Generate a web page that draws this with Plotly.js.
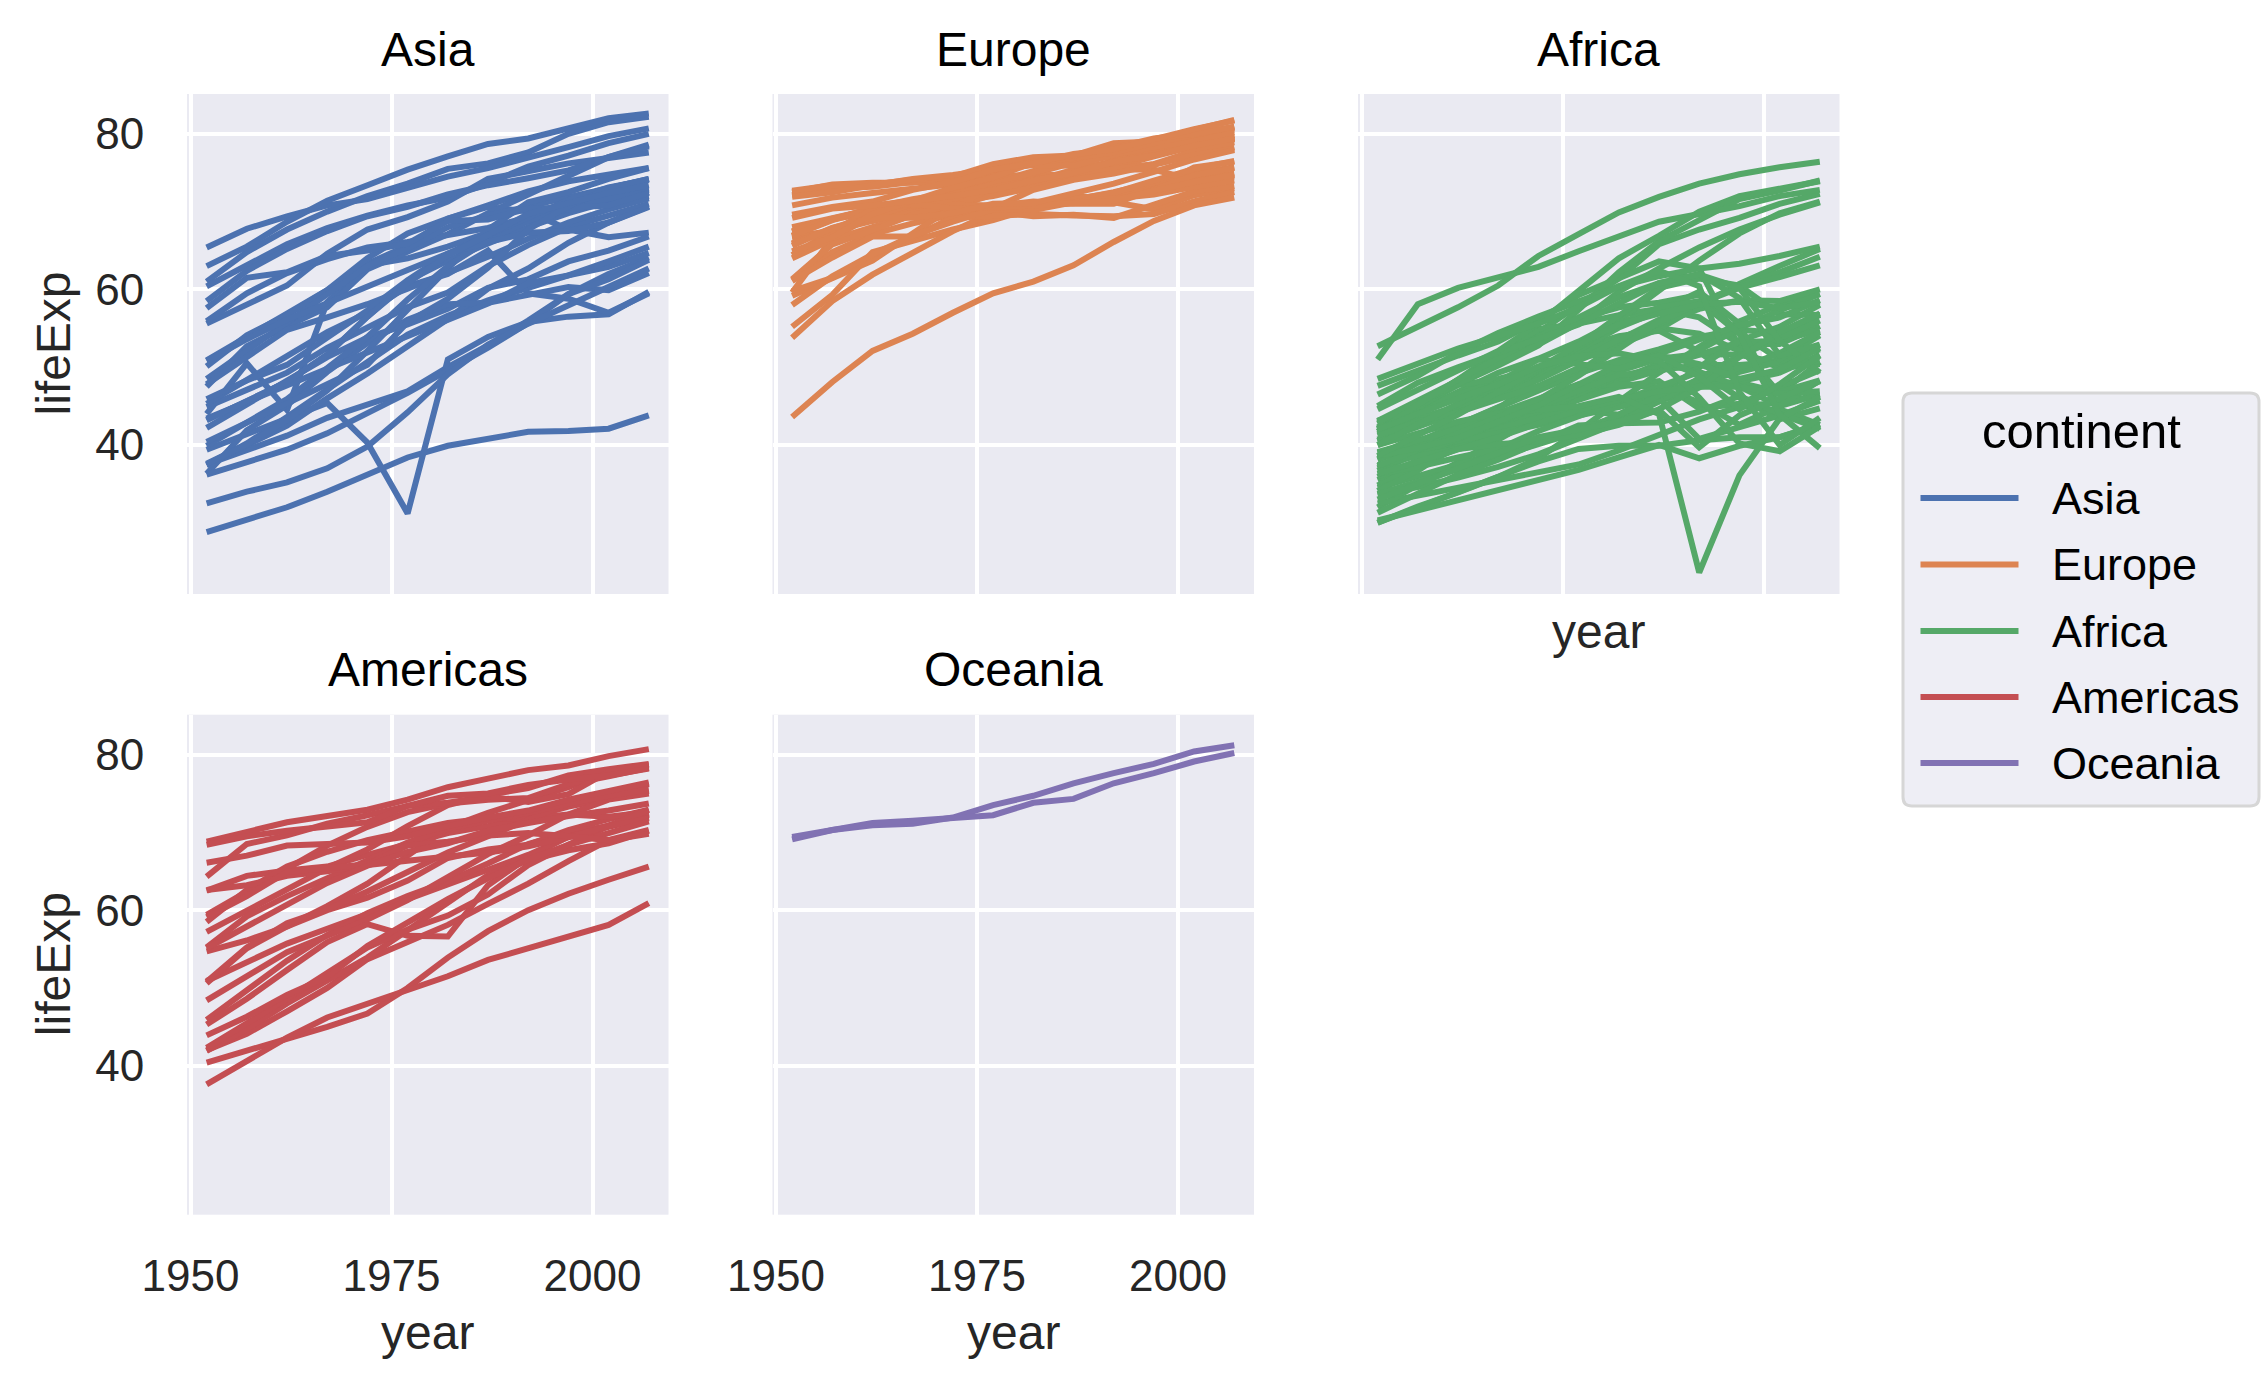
<!DOCTYPE html>
<html>
<head>
<meta charset="utf-8">
<script src="https://cdn.plot.ly/plotly-3.0.1.min.js"></script>
<style>
html, body { margin: 0; padding: 0; background: #ffffff; }
#chart { width: 2266px; height: 1392px; }
</style>
</head>
<body>
<div id="chart"></div>
<script>
// ---------------- DATA ----------------
const years = [1952, 1957, 1962, 1967, 1972, 1977, 1982, 1987, 1992, 1997, 2002, 2007];
const continents = ["Asia", "Europe", "Africa", "Americas", "Oceania"];
const xTickVals = [1950, 1975, 2000];
const yTickVals = [40, 60, 80];

const asiaCountries = ["Afghanistan","Bahrain","Bangladesh","Cambodia","China","Hong Kong, China","India","Indonesia","Iran","Iraq","Israel","Japan","Jordan","Korea, Dem. Rep.","Korea, Rep.","Kuwait","Lebanon","Malaysia","Mongolia","Myanmar","Nepal","Oman","Pakistan","Philippines","Saudi Arabia","Singapore","Sri Lanka","Syria","Taiwan","Thailand","Vietnam","West Bank and Gaza","Yemen, Rep."];
const asiaLifeExp = [
  [28.8,30.3,32.0,34.0,36.1,38.4,39.9,40.8,41.7,41.8,42.1,43.8],
  [50.9,53.8,56.9,59.9,63.3,65.6,69.1,70.8,72.6,73.9,74.8,75.6],
  [37.5,39.3,41.2,43.5,45.3,46.9,50.0,52.8,56.0,59.4,62.0,64.1],
  [39.4,41.4,43.4,45.4,40.3,31.2,51.0,53.9,55.8,56.5,56.8,59.7],
  [44.0,50.5,44.5,58.4,63.1,64.0,65.5,67.3,68.7,70.4,72.0,73.0],
  [61.0,64.8,67.7,70.0,72.0,73.6,75.5,76.2,77.6,80.0,81.5,82.2],
  [37.4,40.2,43.6,47.2,50.7,54.2,56.6,58.6,60.2,61.8,62.9,64.7],
  [37.5,39.9,42.5,46.0,49.2,52.7,56.2,60.1,62.7,66.0,68.6,70.7],
  [44.9,47.2,49.3,52.5,55.2,57.7,59.6,63.0,65.7,68.0,69.5,71.0],
  [45.3,48.4,51.5,54.5,57.0,60.4,62.0,65.0,59.5,58.8,57.0,59.5],
  [65.4,67.8,69.4,70.8,71.6,73.1,74.5,75.6,76.9,78.3,79.7,80.7],
  [63.0,65.5,68.7,71.4,73.4,75.4,77.1,78.7,79.4,80.7,82.0,82.6],
  [43.2,45.7,48.1,51.6,56.5,61.1,63.7,65.9,68.0,69.8,71.3,72.5],
  [50.1,54.1,56.7,59.9,64.0,67.2,69.1,70.6,70.0,67.7,66.7,67.3],
  [47.5,52.7,55.3,57.7,62.6,64.8,67.1,69.8,72.2,74.6,77.0,78.6],
  [55.6,58.0,60.5,64.6,67.7,69.3,71.3,74.2,75.2,76.2,76.9,77.6],
  [55.9,59.5,62.1,63.9,65.4,66.1,67.0,67.9,69.3,70.3,71.0,72.0],
  [48.5,52.1,55.7,59.4,63.0,65.3,68.0,69.5,70.7,71.9,73.0,74.2],
  [42.2,45.2,48.3,51.3,53.8,55.5,57.5,60.2,61.3,63.6,65.0,66.8],
  [36.3,41.9,45.1,49.4,53.1,56.1,58.1,58.3,59.3,60.3,59.9,62.1],
  [36.2,37.7,39.4,41.5,44.0,46.7,49.6,52.5,55.7,59.4,61.3,63.8],
  [37.6,40.1,43.2,47.0,52.1,57.4,62.7,67.7,71.2,72.5,74.2,75.6],
  [43.4,45.6,47.7,49.8,51.9,54.0,56.2,58.2,60.8,61.8,63.6,65.5],
  [47.8,51.3,54.8,56.4,58.1,60.1,62.1,64.2,66.5,68.6,70.3,71.7],
  [39.9,42.9,45.9,49.9,53.9,58.7,63.0,66.3,68.8,70.5,71.6,72.8],
  [60.4,63.2,65.8,67.9,69.5,70.8,71.8,73.6,75.8,77.2,78.8,80.0],
  [57.6,61.5,62.2,64.3,65.0,65.9,68.8,69.0,70.4,70.5,70.8,72.4],
  [45.9,48.3,50.3,53.7,57.3,61.2,64.6,67.0,69.2,71.5,73.1,74.1],
  [58.5,62.4,65.2,67.5,69.4,70.6,72.2,73.4,74.3,75.3,77.0,78.4],
  [50.8,53.6,56.1,58.3,60.4,62.5,64.6,66.1,67.3,67.5,68.6,70.6],
  [40.4,42.9,45.4,47.8,50.3,55.8,58.8,62.8,67.7,70.7,73.0,74.2],
  [43.2,45.7,48.1,51.6,56.5,60.8,64.4,67.0,69.7,71.1,72.4,73.4],
  [32.5,34.0,35.2,37.0,39.8,44.2,49.1,52.9,55.6,58.0,60.3,62.7]
];

const europeCountries = ["Albania","Austria","Belgium","Bosnia and Herzegovina","Bulgaria","Croatia","Czech Republic","Denmark","Finland","France","Germany","Greece","Hungary","Iceland","Ireland","Italy","Montenegro","Netherlands","Norway","Poland","Portugal","Romania","Serbia","Slovak Republic","Slovenia","Spain","Sweden","Switzerland","Turkey","United Kingdom"];
const europeLifeExp = [
  [55.2,59.3,64.8,66.2,67.7,68.9,70.4,72.0,71.6,73.0,75.7,76.4],
  [66.8,67.5,69.5,70.1,70.6,72.2,73.2,74.9,76.0,77.5,79.0,79.8],
  [68.0,69.2,70.3,70.9,71.4,72.8,73.9,75.4,76.5,77.5,78.3,79.4],
  [53.8,58.5,61.9,64.8,67.5,69.9,70.7,71.1,72.2,73.2,74.1,74.9],
  [59.6,66.6,69.5,70.4,70.9,70.8,71.1,71.3,71.2,70.3,72.1,73.0],
  [61.2,64.8,67.1,68.5,69.6,70.6,70.5,71.5,72.5,73.7,74.9,75.7],
  [66.9,69.0,69.9,70.4,70.3,70.7,71.0,71.6,72.4,74.0,75.5,76.5],
  [70.8,71.8,72.4,73.0,73.5,74.7,74.6,74.8,75.3,76.1,77.2,78.3],
  [66.6,67.5,68.8,69.8,70.9,72.5,74.6,74.8,75.7,77.1,78.4,79.3],
  [67.4,68.9,70.5,71.6,72.4,73.8,74.9,76.3,77.5,78.6,79.6,80.7],
  [67.5,69.1,70.3,70.8,71.0,72.5,73.8,74.8,76.1,77.3,78.7,79.4],
  [65.9,67.9,69.5,71.0,72.3,73.7,75.2,76.7,77.0,77.9,78.3,79.5],
  [64.0,66.4,68.0,69.5,69.8,70.0,69.4,69.6,69.2,71.0,72.6,73.3],
  [72.5,73.5,73.7,73.7,74.5,76.1,77.0,77.2,78.8,79.0,80.5,81.8],
  [66.9,68.9,70.3,71.1,71.3,72.0,73.1,74.4,75.5,76.1,77.8,78.9],
  [65.9,67.8,69.2,71.1,72.2,73.5,75.0,76.4,77.4,78.8,80.2,80.5],
  [59.2,61.4,63.7,67.2,70.6,73.1,74.1,74.9,75.4,75.4,74.0,74.5],
  [72.1,73.0,73.2,73.8,73.8,75.2,76.1,76.8,77.4,78.0,78.5,79.8],
  [72.7,73.4,73.5,74.1,74.3,75.4,76.0,75.9,77.3,78.3,79.1,80.2],
  [61.3,65.8,67.6,69.6,70.9,70.7,71.3,71.0,71.0,72.8,74.7,75.6],
  [59.8,61.5,64.4,66.6,69.3,70.4,72.8,74.1,74.9,76.0,77.3,78.1],
  [61.1,64.1,66.8,66.8,69.2,69.5,69.7,69.5,69.4,69.7,71.3,72.5],
  [58.0,61.7,64.5,66.9,68.7,70.3,70.2,71.2,71.7,72.2,73.2,74.0],
  [64.4,67.5,70.3,71.0,70.4,70.5,70.8,71.1,71.4,72.7,73.8,74.7],
  [65.6,67.9,69.2,69.2,69.8,71.0,71.1,72.3,73.6,75.1,76.7,77.9],
  [64.9,66.7,69.7,71.4,73.1,74.4,76.3,76.9,77.6,78.8,79.8,80.9],
  [71.9,72.5,73.4,74.2,74.7,75.4,76.4,77.2,78.2,79.4,80.0,80.9],
  [69.6,70.6,71.3,72.8,73.8,75.4,76.2,77.4,78.0,79.4,80.6,81.7],
  [43.6,48.1,52.1,54.3,57.0,59.5,61.0,63.1,66.1,68.8,70.8,71.8],
  [69.2,70.4,70.8,71.4,72.0,72.8,74.0,75.0,76.4,77.2,78.5,79.4]
];

const africaCountries = ["Algeria","Angola","Benin","Botswana","Burkina Faso","Burundi","Cameroon","Central African Republic","Chad","Comoros","Congo, Dem. Rep.","Congo, Rep.","Cote d'Ivoire","Djibouti","Egypt","Equatorial Guinea","Eritrea","Ethiopia","Gabon","Gambia","Ghana","Guinea","Guinea-Bissau","Kenya","Lesotho","Liberia","Libya","Madagascar","Malawi","Mali","Mauritania","Mauritius","Morocco","Mozambique","Namibia","Niger","Nigeria","Reunion","Rwanda","Sao Tome and Principe","Senegal","Sierra Leone","Somalia","South Africa","Sudan","Swaziland","Tanzania","Togo","Tunisia","Uganda","Zambia","Zimbabwe"];
const africaLifeExp = [
  [43.1,45.7,48.3,51.4,54.5,58.0,61.4,65.8,67.7,69.2,71.0,72.3],
  [30.0,32.0,34.0,36.0,37.9,39.5,39.9,39.9,40.6,41.0,41.0,42.7],
  [38.2,40.4,42.6,44.9,47.0,49.2,50.9,52.3,53.9,54.8,54.4,56.7],
  [47.6,49.6,51.5,53.3,56.0,59.3,61.5,63.6,62.7,52.6,46.6,50.7],
  [32.0,34.9,37.8,40.7,43.6,46.1,48.1,49.6,50.3,50.3,50.7,52.3],
  [39.0,40.5,42.0,43.5,44.1,45.9,47.5,48.2,44.7,45.3,47.4,49.6],
  [38.5,40.4,42.6,44.8,47.0,49.4,53.0,55.0,54.3,52.2,49.9,50.4],
  [35.5,37.5,39.5,41.5,43.5,46.8,48.3,50.5,49.4,46.1,43.3,44.7],
  [38.1,39.9,41.7,43.6,45.6,47.4,49.5,51.1,51.7,51.6,50.5,50.7],
  [40.7,42.5,44.5,46.5,48.9,50.9,52.9,54.9,57.9,60.7,63.0,65.2],
  [39.1,40.7,42.1,44.1,46.0,47.8,47.8,47.4,45.5,42.6,45.0,46.5],
  [42.1,45.1,48.4,52.0,54.9,55.6,56.7,57.5,56.4,53.0,53.0,55.3],
  [40.5,42.5,44.9,47.4,49.8,52.4,54.0,54.7,52.0,48.0,46.8,48.3],
  [34.8,37.3,39.7,42.1,44.4,46.5,48.8,50.0,51.6,53.2,53.4,54.8],
  [41.9,44.4,47.0,49.3,51.1,53.3,56.0,59.8,63.7,67.2,69.8,71.3],
  [34.5,36.0,37.5,39.0,40.5,42.0,43.7,45.7,47.5,48.2,49.3,51.6],
  [35.9,38.0,40.2,42.2,44.1,44.5,43.9,46.5,50.0,53.4,55.2,58.0],
  [34.1,36.7,40.1,42.1,43.5,44.5,44.9,46.7,48.1,49.4,50.7,52.9],
  [37.0,39.0,40.5,44.6,48.7,52.8,56.6,60.2,61.4,60.5,56.8,56.7],
  [30.0,32.1,33.9,35.9,38.3,41.8,45.6,49.3,52.6,55.9,58.0,59.4],
  [43.1,44.8,46.5,48.1,49.9,51.8,53.7,55.7,57.5,58.6,58.5,60.0],
  [33.6,34.6,35.8,37.2,38.8,40.8,42.9,45.6,48.6,51.5,53.7,56.0],
  [32.5,33.5,34.5,35.5,36.5,37.5,39.3,41.2,43.3,44.9,45.5,46.4],
  [42.3,44.7,47.9,50.7,53.6,56.2,57.7,58.3,59.3,54.4,51.0,54.1],
  [42.1,45.0,47.7,48.5,49.8,52.2,55.1,57.2,59.7,55.6,44.6,42.6],
  [38.5,39.5,40.5,41.5,42.6,43.8,44.9,46.0,40.8,42.2,43.8,45.7],
  [42.7,45.3,47.8,50.2,52.8,57.4,62.2,66.2,68.8,71.6,72.7,74.0],
  [36.7,38.9,40.8,42.9,44.9,46.9,49.0,49.4,52.2,55.0,57.3,59.4],
  [36.3,37.2,38.4,39.5,41.8,43.8,45.6,47.5,49.4,47.5,45.0,48.3],
  [33.7,35.3,36.9,38.5,40.0,41.7,43.9,46.4,48.4,49.9,51.8,54.5],
  [40.5,42.3,44.2,46.3,48.4,50.9,53.6,56.1,58.3,60.4,62.2,64.2],
  [51.0,58.1,60.2,61.6,62.9,64.9,66.7,68.7,69.7,70.7,72.0,72.8],
  [42.9,45.4,47.9,50.3,52.9,55.7,59.7,62.7,65.4,67.7,69.6,71.2],
  [31.3,33.8,36.2,38.1,40.3,42.5,42.8,42.9,44.3,46.3,44.0,42.1],
  [41.7,45.2,48.4,51.2,53.9,56.4,59.0,60.8,62.0,58.9,51.5,52.9],
  [37.4,38.6,39.5,40.1,40.5,41.3,42.6,44.6,47.4,51.3,54.5,56.9],
  [36.3,37.8,39.4,41.0,42.8,44.5,45.8,46.9,47.5,47.5,46.6,46.9],
  [52.7,55.1,57.7,60.5,64.3,67.1,69.9,71.9,73.6,74.8,75.7,76.4],
  [40.0,41.5,43.0,44.1,44.6,45.0,46.2,44.0,23.6,36.1,43.4,46.2],
  [46.5,48.9,51.9,54.4,56.5,58.5,60.4,61.7,62.7,63.3,64.3,65.5],
  [37.3,39.3,41.5,43.6,45.8,48.9,52.4,55.8,58.2,60.2,61.6,63.1],
  [30.3,31.6,32.8,34.1,35.4,36.8,38.4,40.0,38.3,39.9,41.0,42.6],
  [33.0,35.0,37.0,39.0,41.0,42.0,43.0,44.5,39.7,43.8,45.9,48.2],
  [45.0,48.0,50.0,51.9,53.7,55.5,58.2,60.8,61.9,60.2,53.4,49.3],
  [38.6,39.6,40.9,42.9,45.1,47.8,50.3,51.7,53.6,55.4,56.4,58.6],
  [41.4,43.4,45.0,46.6,49.6,52.5,55.6,57.7,58.5,54.3,43.9,39.6],
  [41.2,43.0,44.2,45.8,47.6,49.9,50.6,51.5,50.4,48.5,49.7,52.5],
  [38.6,41.2,43.9,46.8,49.8,52.9,55.5,56.9,58.1,58.4,57.6,58.4],
  [44.6,47.1,49.6,52.1,55.6,59.8,64.0,66.9,70.0,72.0,73.0,73.9],
  [40.0,42.6,45.3,48.1,51.0,50.4,49.8,51.5,48.8,44.6,47.8,51.5],
  [42.0,44.1,46.0,47.8,50.1,51.4,51.8,50.8,46.1,40.2,39.2,42.4],
  [48.5,50.5,52.4,54.0,55.6,57.7,60.4,62.4,60.4,46.8,40.0,43.5]
];

const americasCountries = ["Argentina","Bolivia","Brazil","Canada","Chile","Colombia","Costa Rica","Cuba","Dominican Republic","Ecuador","El Salvador","Guatemala","Haiti","Honduras","Jamaica","Mexico","Nicaragua","Panama","Paraguay","Peru","Puerto Rico","Trinidad and Tobago","United States","Uruguay","Venezuela"];
const americasLifeExp = [
  [62.5,64.4,65.1,65.6,67.1,68.5,69.9,70.8,71.9,73.3,74.3,75.3],
  [40.4,41.9,43.4,45.0,46.7,50.0,53.9,57.3,60.0,62.1,63.9,65.6],
  [50.9,53.3,55.7,57.6,59.5,61.5,63.3,65.2,67.1,69.4,71.0,72.4],
  [68.8,70.0,71.3,72.1,72.9,74.2,75.8,76.9,78.0,78.6,79.8,80.7],
  [54.7,56.1,57.9,60.5,63.4,67.1,70.6,72.5,74.1,75.8,77.9,78.6],
  [50.6,55.1,57.9,60.0,61.6,63.8,66.7,67.8,68.4,70.3,71.7,72.9],
  [57.2,60.0,62.8,65.4,67.8,70.8,73.5,74.8,75.7,77.3,78.1,78.8],
  [59.4,62.3,65.2,68.3,70.7,72.6,73.7,74.2,74.4,76.2,77.2,78.3],
  [45.9,49.8,53.5,56.8,59.6,61.8,63.7,66.0,68.5,70.0,70.8,72.2],
  [48.4,51.4,54.6,56.7,58.8,61.3,64.3,67.2,69.6,72.3,74.2,75.0],
  [45.3,48.6,52.3,55.9,58.2,56.7,56.6,63.2,66.8,69.5,70.7,71.9],
  [42.0,44.1,47.0,50.0,53.7,56.0,58.1,60.8,63.4,66.3,69.0,70.3],
  [37.6,40.7,43.6,46.2,48.0,49.9,51.5,53.6,55.1,56.7,58.1,60.9],
  [41.9,44.7,48.0,50.9,53.9,57.4,60.9,64.5,66.4,67.7,68.6,70.2],
  [58.5,62.6,65.6,67.5,69.0,70.1,71.2,71.8,71.8,72.3,72.0,72.6],
  [50.8,55.2,58.3,60.1,62.4,65.0,67.4,69.5,71.5,73.7,74.9,76.2],
  [42.3,45.4,48.6,51.9,55.2,57.5,59.3,62.0,65.8,68.4,70.8,72.9],
  [55.2,59.2,61.8,64.1,66.2,68.7,70.5,71.5,72.5,73.7,74.7,75.5],
  [62.6,63.2,64.4,65.0,65.8,66.4,66.9,67.4,68.2,69.4,70.8,71.8],
  [43.9,46.3,49.1,51.4,55.4,58.4,61.4,64.1,66.5,68.4,69.9,71.4],
  [64.3,68.5,69.6,71.1,72.2,73.4,73.8,74.6,73.9,74.9,77.8,78.7],
  [59.1,61.8,64.9,65.4,65.9,68.3,68.8,69.6,69.9,69.5,69.0,69.8],
  [68.4,69.5,70.2,70.8,71.3,73.4,74.7,75.0,76.1,76.8,77.3,78.2],
  [66.1,67.0,68.3,68.5,68.7,69.5,70.8,71.9,72.8,74.2,75.3,76.4],
  [55.1,57.9,60.8,63.5,65.7,67.5,68.6,70.2,71.2,72.1,72.8,73.7]
];

const oceaniaCountries = ["Australia","New Zealand"];
const oceaniaLifeExp = [
  [69.1,70.3,70.9,71.1,71.9,73.5,74.7,76.3,77.6,78.8,80.4,81.2],
  [69.4,70.3,71.2,71.5,71.9,72.2,73.8,74.3,76.3,77.6,79.1,80.2]
];

// ---------------- STYLE / LAYOUT ----------------
const W = 2266, H = 1392;
const palette = ["#4C72B0", "#DD8452", "#55A868", "#C44E52", "#8172B3"];
const font = "Liberation Sans, Arial, Helvetica, sans-serif";
const lineW = 6;

const colLeft = [187, 772.5, 1358];
const colWidth = 481.5;
const rowTop = [94, 714.7];
const rowHeight = 500;

const panelDefs = [
  { name: "Asia",     countries: asiaCountries,     values: asiaLifeExp,     row: 0, col: 0 },
  { name: "Europe",   countries: europeCountries,   values: europeLifeExp,   row: 0, col: 1 },
  { name: "Africa",   countries: africaCountries,   values: africaLifeExp,   row: 0, col: 2 },
  { name: "Americas", countries: americasCountries, values: americasLifeExp, row: 1, col: 0 },
  { name: "Oceania",  countries: oceaniaCountries,  values: oceaniaLifeExp,  row: 1, col: 1 }
];

const px = x => x / W;
const py = y => 1 - y / H;

const traces = [];
const layout = {
  width: W, height: H,
  margin: { l: 0, r: 0, t: 0, b: 0, pad: 0 },
  paper_bgcolor: "#ffffff",
  plot_bgcolor: "#EAEAF2",
  showlegend: false,
  font: { family: font, color: "#262626" },
  annotations: [],
  shapes: []
};

panelDefs.forEach((p, i) => {
  const sfx = i === 0 ? "" : String(i + 1);
  const color = palette[continents.indexOf(p.name)];
  p.countries.forEach((c, j) => {
    traces.push({
      type: "scatter", mode: "lines",
      x: years, y: p.values[j],
      xaxis: "x" + sfx, yaxis: "y" + sfx,
      name: c,
      line: { color: color, width: lineW },
      hovertemplate: c + "<br>%{x}: %{y}<extra></extra>"
    });
  });
  const x0 = colLeft[p.col], y0 = rowTop[p.row];
  const showX = p.row === 1;
  const showY = p.col === 0;
  layout["xaxis" + sfx] = {
    domain: [px(x0), px(x0 + colWidth)],
    anchor: "y" + sfx,
    range: [1949.56, 2009.45],
    tickvals: xTickVals,
    ticktext: xTickVals.map(String),
    showgrid: true, gridcolor: "#ffffff", gridwidth: 4,
    zeroline: false, showline: false,
    ticks: "outside", ticklen: 22, tickcolor: "rgba(0,0,0,0)",
    showticklabels: showX,
    tickfont: { family: font, size: 44, color: "#262626" },
    fixedrange: true
  };
  layout["yaxis" + sfx] = {
    domain: [py(y0 + rowHeight), py(y0)],
    anchor: "x" + sfx,
    range: [20.85, 85.12],
    tickvals: yTickVals,
    ticktext: yTickVals.map(String),
    showgrid: true, gridcolor: "#ffffff", gridwidth: 4,
    zeroline: false, showline: false,
    ticks: "outside", ticklen: 33, tickcolor: "rgba(0,0,0,0)",
    showticklabels: showY,
    tickfont: { family: font, size: 44, color: "#262626" },
    fixedrange: true
  };
  // panel title
  layout.annotations.push({
    text: p.name, xref: "paper", yref: "paper",
    x: px(x0 + colWidth / 2), y: py(y0 - 45),
    xanchor: "center", yanchor: "middle", showarrow: false,
    font: { family: font, size: 48, color: "#000000" }
  });
  // y axis title
  if (showY) {
    layout.annotations.push({
      text: "lifeExp", xref: "paper", yref: "paper",
      x: px(53.5), y: py(y0 + rowHeight / 2),
      xanchor: "center", yanchor: "middle", textangle: -90, showarrow: false,
      font: { family: font, size: 48, color: "#262626" }
    });
  }
  // x axis title
  if (showX || p.name === "Africa") {
    const yy = showX ? (y0 + rowHeight + 118) : (y0 + rowHeight + 37);
    layout.annotations.push({
      text: "year", xref: "paper", yref: "paper",
      x: px(x0 + colWidth / 2), y: py(yy),
      xanchor: "center", yanchor: "middle", showarrow: false,
      font: { family: font, size: 48, color: "#262626" }
    });
  }
});

// ---------------- LEGEND (drawn) ----------------
const lg = { x0: 1903, x1: 2259, y0: 393, y1: 806, r: 9 };
function roundRectPath(b) {
  const r = b.r;
  const P = (x, y) => px(x).toFixed(6) + "," + py(y).toFixed(6);
  return "M" + P(b.x0 + r, b.y0) +
    " L" + P(b.x1 - r, b.y0) + " Q" + P(b.x1, b.y0) + " " + P(b.x1, b.y0 + r) +
    " L" + P(b.x1, b.y1 - r) + " Q" + P(b.x1, b.y1) + " " + P(b.x1 - r, b.y1) +
    " L" + P(b.x0 + r, b.y1) + " Q" + P(b.x0, b.y1) + " " + P(b.x0, b.y1 - r) +
    " L" + P(b.x0, b.y0 + r) + " Q" + P(b.x0, b.y0) + " " + P(b.x0 + r, b.y0) + " Z";
}
layout.shapes.push({
  type: "path", xref: "paper", yref: "paper", path: roundRectPath(lg),
  fillcolor: "#EEEEF5", line: { color: "#D6D6D6", width: 3 }, layer: "above"
});
layout.annotations.push({
  text: "continent", xref: "paper", yref: "paper",
  x: px((lg.x0 + lg.x1) / 2), y: py(431),
  xanchor: "center", yanchor: "middle", showarrow: false,
  font: { family: font, size: 49, color: "#000000" }
});
const legendRowY = [498, 564.5, 631, 697, 763];
continents.forEach((c, k) => {
  layout.shapes.push({
    type: "line", xref: "paper", yref: "paper",
    x0: px(1920.5), x1: px(2018.5), y0: py(legendRowY[k]), y1: py(legendRowY[k]),
    line: { color: palette[k], width: lineW }, layer: "above"
  });
  layout.annotations.push({
    text: c, xref: "paper", yref: "paper",
    x: px(2050), y: py(legendRowY[k]),
    xanchor: "left", yanchor: "middle", showarrow: false,
    font: { family: font, size: 45, color: "#000000" }
  });
});

Plotly.newPlot("chart", traces, layout, { staticPlot: true, displayModeBar: false });
</script>
</body>
</html>
